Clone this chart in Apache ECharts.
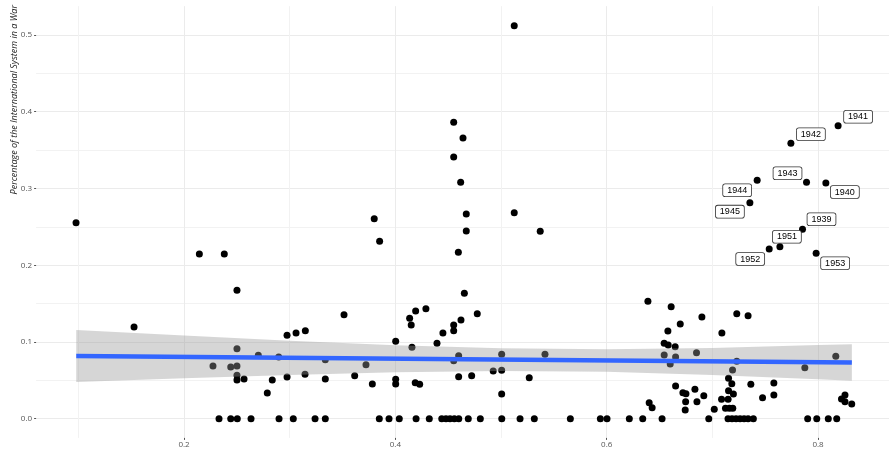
<!DOCTYPE html>
<html>
<head>
<meta charset="utf-8">
<script src="https://cdn.jsdelivr.net/npm/echarts@6/dist/echarts.min.js"></script>
<style>
html,body{margin:0;padding:0;background:#fff}
#chart{width:889px;height:449px}
</style>
</head>
<body>
<div id="chart"></div>
<script>
// points (x share, y share of system at war)
const pointX = [0.0978,0.1527,0.2145,0.2381,0.2501,0.3514,0.2975,0.306,0.3148,0.2501,0.2703,0.2896,0.2274,0.2442,0.2501,0.2501,0.2501,0.2568,0.2788,0.2835,0.2975,0.3145,0.3337,0.3337,0.3615,
  0.4552,0.464,0.4552,0.4618,0.380,0.4671,0.5125,0.3851,0.4671,0.5371,0.4596,0.4653,0.4135,0.415,0.4192,0.4289,0.4621,0.4775,0.4552,0.4552,0.445,0.4394,0.4003,0.4157,0.4599,0.4552,0.3722,0.5006,0.5416,0.3782,0.4003,0.4003,0.4188,0.423,0.4599,0.4722,0.4926,0.5006,0.5006,0.5267,0.5125,
  0.639,0.661,0.6696,0.6579,0.6544,0.6582,0.6648,0.6544,0.6652,0.6601,0.685,0.6652,0.6721,0.675,0.6747,0.6743,0.6835,0.6854,0.6402,0.643,
  0.6901,0.7231,0.7338,0.709,0.7231,0.7191,0.7153,0.7184,0.7364,0.7582,0.7153,0.7582,0.6919,0.7475,0.7087,0.7149,0.7199,0.7018,0.7124,0.7161,0.7193,
  0.7875,0.8168,0.8222,0.8255,0.8255,0.8319];
const pointY = [0.2554,0.1195,0.2146,0.2146,0.1673,0.1355,0.1087,0.1117,0.1147,0.0912,0.0826,0.0804,0.0687,0.0674,0.0687,0.0566,0.0504,0.0517,0.0335,0.0504,0.0543,0.0578,0.0769,0.0517,0.056,
  0.3862,0.3658,0.341,0.3081,0.2606,0.2667,0.2684,0.2312,0.2446,0.2442,0.2168,0.1634,0.1308,0.1221,0.1403,0.1433,0.1286,0.1368,0.1221,0.1147,0.1117,0.0983,0.1009,0.093,0.0821,0.0756,0.0704,0.0839,0.0839,0.0452,0.0513,0.0452,0.0469,0.0448,0.0547,0.056,0.0622,0.063,0.0322,0.0534,0.5121,
  0.153,0.146,0.1234,0.1143,0.0983,0.096,0.0938,0.083,0.0804,0.0713,0.086,0.0426,0.0339,0.0326,0.0222,0.0113,0.0383,0.0222,0.0208,0.0143,
  0.1325,0.1368,0.1342,0.1117,0.0748,0.0635,0.0526,0.0456,0.0448,0.0465,0.0365,0.0309,0.03,0.0274,0.0253,0.0253,0.0322,0.0122,0.0135,0.0135,0.0135,
  0.0665,0.0813,0.0256,0.0309,0.0222,0.0192];
// points sitting on 0
const zeroX = [0.2331,0.2442,0.2504,0.2634,0.2899,0.3034,0.324,0.3337,0.3848,0.394,0.4037,0.4196,0.4321,0.4439,0.4479,0.4517,0.4558,0.46,0.469,0.4804,
  0.5007,0.518,0.5315,0.5656,0.594,0.6003,0.6214,0.6341,0.6524,0.6966,0.7148,0.7186,0.7224,0.7262,0.73,0.7338,0.7388,0.7902,0.7988,0.8097,0.8177];

// labelled years
const yearLabels = ['1939','1940','1941','1942','1943','1944','1945','1951','1952','1953'];
const yearX = [0.7853,0.8074,0.819,0.7743,0.7891,0.7424,0.7355,0.7639,0.7538,0.7982];
const yearY = [0.2468,0.3071,0.3818,0.3589,0.3081,0.3107,0.2815,0.2241,0.2211,0.2155];
const labelOffsets = [[19,-10],[19,9],[20,-9],[20,-9],[-19,-9],[-20,10],[-20,9],[7,-10],[-19,10],[19,10]];

// linear fit + confidence band
const fitX = [0.098,0.832];
const fitY = [0.0817,0.0732];
const bandX = [0.098,0.2,0.3,0.4,0.5,0.6,0.7,0.8,0.832];
const bandUpper = [0.1156,0.1084,0.1016,0.0958,0.0917,0.0906,0.0923,0.0959,0.0971];
const bandLower = [0.0478,0.0526,0.0571,0.0606,0.0623,0.0611,0.0571,0.0513,0.0494];

const xTicks = [0.2,0.4,0.6,0.8];
const yTicks = [0,0.1,0.2,0.3,0.4,0.5];

const chart = echarts.init(document.getElementById('chart'));
const MAJ = '#ebebeb', MIN = '#f2f2f2', NONE = 'rgba(0,0,0,0)';
const xGridColors = Array.from({length:20},(_,i)=> i===14 ? MAJ : (i===4 ? MIN : NONE));
const yGridColors = Array.from({length:8},(_,i)=> i===2 ? MAJ : (i===6 ? MIN : NONE));
const xMin = 0.06, xMax = 0.87, yMin = -0.025, yMax = 0.5375;
const tickFont = {fontFamily:'Open Sans', fontSize:8, color:'#555'};

const option = {
  animation:false,
  grid:{left:36.1, right:-3, top:6.2, bottom:11.1, containLabel:false, outerBoundsMode:'none'},
  xAxis:[
    {type:'value', min:xMin, max:xMax, interval:0.01,
     axisLine:{show:false, onZero:false}, axisTick:{show:false}, axisLabel:{show:false},
     splitLine:{show:true, lineStyle:{color:xGridColors, width:1}}},
    {type:'value', min:xMin, max:xMax, position:'bottom',
     axisLine:{show:false, onZero:false}, splitLine:{show:false},
     axisTick:{show:true, length:2, customValues:xTicks, lineStyle:{color:'#555'}},
     axisLabel:Object.assign({show:true, margin:3, customValues:xTicks, formatter:v=>v.toFixed(1)}, tickFont)}
  ],
  yAxis:[
    {type:'value', min:yMin, max:yMax, interval:0.0125,
     axisLine:{show:false, onZero:false}, axisTick:{show:false}, axisLabel:{show:false},
     splitLine:{show:true, lineStyle:{color:yGridColors, width:1}}},
    {type:'value', min:yMin, max:yMax, position:'left',
     axisLine:{show:false, onZero:false}, splitLine:{show:false},
     axisTick:{show:true, length:2, customValues:yTicks, lineStyle:{color:'#555'}},
     axisLabel:Object.assign({show:true, margin:4, customValues:yTicks, formatter:v=>v.toFixed(1)}, tickFont)}
  ],
  graphic:[{
    type:'text', x:14, y:5, rotation:Math.PI/2,
    style:{text:'Percentage of the International System in a War', fontFamily:'Open Sans', fontStyle:'italic',
      fontSize:9, fill:'#222', align:'right', verticalAlign:'middle'}
  }],
  series:[
    {type:'scatter', xAxisIndex:0, yAxisIndex:0, symbolSize:7, itemStyle:{color:'#000', opacity:1}, z:2,
     data: pointX.map((x,i)=>[x,pointY[i]]).concat(zeroX.map(x=>[x,0]))},
    {type:'custom', xAxisIndex:0, yAxisIndex:0, z:3, silent:true,
     data:[[bandX[0], bandUpper[0]]],
     renderItem:function(params, api){
       const up = bandX.map((x,i)=>api.coord([x,bandUpper[i]]));
       const lo = bandX.map((x,i)=>api.coord([x,bandLower[i]])).reverse();
       return {type:'polygon', shape:{points:up.concat(lo)}, style:{fill:'rgba(153,153,153,0.4)'}};
     }},
    {type:'line', xAxisIndex:0, yAxisIndex:0, z:4, showSymbol:false, symbol:'none',
     lineStyle:{color:'#3366FF', width:4.5},
     data: fitX.map((x,i)=>[x,fitY[i]])},
    {type:'scatter', xAxisIndex:0, yAxisIndex:0, symbolSize:7, itemStyle:{color:'#000', opacity:1}, z:5,
     data: yearX.map((x,i)=>({value:[x,yearY[i]], label:{offset:labelOffsets[i]}})),
     label:{show:true, position:'inside', formatter:p=>yearLabels[p.dataIndex],
       fontFamily:'Liberation Sans', fontSize:9, color:'#000', backgroundColor:'#fff',
       borderColor:'#333', borderWidth:0.8, borderRadius:2, padding:[2,4,1,4]}}
  ]
};
chart.setOption(option);
</script>
</body>
</html>
